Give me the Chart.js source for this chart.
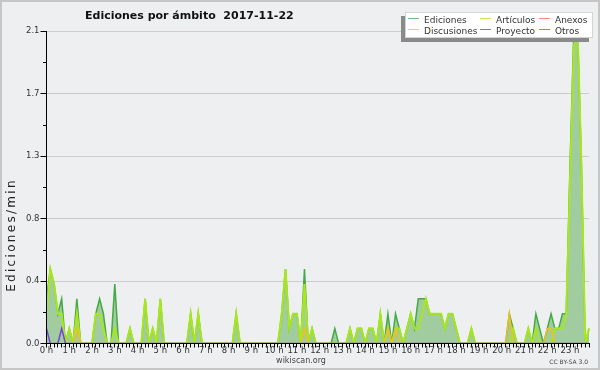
<!DOCTYPE html>
<html>
<head>
<meta charset="utf-8">
<script src="https://cdn.jsdelivr.net/npm/chart.js@4.4.1/dist/chart.umd.min.js"></script>
<style>
  body { margin: 0; background: #eeeff1; }
</style>
</head>
<body>
<canvas id="grafico" width="600" height="370"></canvas>
<script>
// una muestra cada 10 minutos, ediciones por minuto
const horas = ['0 h', '1 h', '2 h', '3 h', '4 h', '5 h', '6 h', '7 h', '8 h', '9 h', '10 h', '11 h',
  '12 h', '13 h', '14 h', '15 h', '16 h', '17 h', '18 h', '19 h', '20 h', '21 h', '22 h', '23 h'];
const yTicks = [0, 0.21, 0.42, 0.63, 0.84, 1.05, 1.26, 1.47, 1.68, 1.89, 2.1];

const ediciones = [
  0.3, 0.5, 0.4, 0.2, 0.3, 0, 0.1, 0, 0.3, 0, 0, 0,
  0, 0.2, 0.3, 0.2, 0, 0, 0.4, 0, 0, 0, 0.1, 0,
  0, 0, 0.3, 0, 0.1, 0, 0.3, 0, 0, 0, 0, 0,
  0, 0, 0.2, 0, 0.2, 0, 0, 0, 0, 0, 0, 0,
  0, 0, 0.2, 0, 0, 0, 0, 0, 0, 0, 0, 0,
  0, 0, 0.2, 0.5, 0.1, 0.2, 0.2, 0, 0.5, 0, 0.1, 0,
  0, 0, 0, 0, 0.1, 0, 0, 0, 0.1, 0, 0.1, 0.1,
  0, 0.1, 0.1, 0, 0.2, 0, 0.2, 0, 0.2, 0.1, 0, 0.1,
  0.2, 0.1, 0.3, 0.3, 0.3, 0.2, 0.2, 0.2, 0.2, 0.1, 0.2, 0.2,
  0.1, 0, 0, 0, 0.1, 0, 0, 0, 0, 0, 0, 0,
  0, 0, 0.2, 0.1, 0, 0, 0, 0.1, 0, 0.2, 0.1, 0,
  0.1, 0.2, 0.1, 0.1, 0.2, 0.2, 1.2, 2.1, 2.1, 1.2, 0, 0.1
];
const articulos = [
  0.2, 0.5, 0.4, 0.2, 0.2, 0, 0.1, 0, 0.2, 0, 0, 0,
  0, 0.2, 0.2, 0.1, 0, 0, 0.1, 0, 0, 0, 0.1, 0,
  0, 0, 0.3, 0, 0.1, 0, 0.3, 0, 0, 0, 0, 0,
  0, 0, 0.2, 0, 0.2, 0, 0, 0, 0, 0, 0, 0,
  0, 0, 0.2, 0, 0, 0, 0, 0, 0, 0, 0, 0,
  0, 0, 0.2, 0.5, 0.1, 0.2, 0.2, 0, 0.4, 0, 0.1, 0,
  0, 0, 0, 0, 0, 0, 0, 0, 0.1, 0, 0.1, 0.1,
  0, 0.1, 0.1, 0, 0.2, 0, 0.1, 0, 0.1, 0.1, 0, 0.1,
  0.2, 0.1, 0.1, 0.2, 0.3, 0.2, 0.2, 0.2, 0.2, 0.1, 0.2, 0.2,
  0.1, 0, 0, 0, 0.1, 0, 0, 0, 0, 0, 0, 0,
  0, 0, 0, 0.1, 0, 0, 0, 0.1, 0, 0.1, 0, 0,
  0, 0, 0.1, 0.1, 0.1, 0.2, 1.1, 2.0, 2.1, 1.2, 0, 0.1
];
const discusiones = [
  0, 0, 0, 0, 0, 0, 0, 0, 0.1, 0, 0, 0,
  0, 0, 0, 0, 0, 0, 0, 0, 0, 0, 0, 0,
  0, 0, 0, 0, 0, 0, 0, 0, 0, 0, 0, 0,
  0, 0, 0, 0, 0, 0, 0, 0, 0, 0, 0, 0,
  0, 0, 0, 0, 0, 0, 0, 0, 0, 0, 0, 0,
  0, 0, 0, 0, 0, 0, 0, 0, 0.1, 0, 0, 0,
  0, 0, 0, 0, 0, 0, 0, 0, 0, 0, 0, 0,
  0, 0, 0, 0, 0, 0, 0.1, 0, 0.1, 0, 0, 0,
  0, 0, 0, 0, 0, 0, 0, 0, 0, 0, 0, 0,
  0, 0, 0, 0, 0, 0, 0, 0, 0, 0, 0, 0,
  0, 0, 0.2, 0, 0, 0, 0, 0, 0, 0, 0, 0,
  0.1, 0.1, 0, 0, 0, 0, 0, 0, 0, 0, 0, 0
];
const otros = [
  0.1, 0, 0, 0, 0.1, 0, 0, 0, 0, 0, 0, 0,
  0, 0, 0, 0, 0, 0, 0, 0, 0, 0, 0, 0,
  0, 0, 0, 0, 0, 0, 0, 0, 0, 0, 0, 0,
  0, 0, 0, 0, 0, 0, 0, 0, 0, 0, 0, 0,
  0, 0, 0, 0, 0, 0, 0, 0, 0, 0, 0, 0,
  0, 0, 0, 0, 0, 0, 0, 0, 0, 0, 0, 0,
  0, 0, 0, 0, 0, 0, 0, 0, 0, 0, 0, 0,
  0, 0, 0, 0, 0, 0, 0, 0, 0, 0, 0, 0,
  0, 0, 0, 0, 0, 0, 0, 0, 0, 0, 0, 0,
  0, 0, 0, 0, 0, 0, 0, 0, 0, 0, 0, 0,
  0, 0, 0, 0, 0, 0, 0, 0, 0, 0, 0, 0,
  0, 0, 0, 0, 0, 0, 0, 0, 0, 0, 0, 0
];
const anexos = [
  0, 0, 0, 0, 0, 0, 0, 0, 0, 0, 0, 0,
  0, 0, 0, 0, 0, 0, 0, 0, 0, 0, 0, 0,
  0, 0, 0, 0, 0, 0, 0, 0, 0, 0, 0, 0,
  0, 0, 0, 0, 0, 0, 0, 0, 0, 0, 0, 0,
  0, 0, 0, 0, 0, 0, 0, 0, 0, 0, 0, 0,
  0, 0, 0, 0, 0, 0, 0, 0, 0, 0, 0, 0,
  0, 0, 0, 0, 0, 0, 0, 0, 0, 0, 0, 0,
  0, 0, 0, 0, 0, 0, 0, 0, 0, 0, 0, 0,
  0, 0, 0, 0, 0, 0, 0, 0, 0, 0, 0, 0,
  0, 0, 0, 0, 0, 0, 0, 0, 0, 0, 0, 0,
  0, 0, 0, 0, 0, 0, 0, 0, 0, 0, 0, 0,
  0, 0, 0, 0, 0, 0, 0, 0, 0, 0, 0, 0
];
const proyecto = [
  0, 0, 0, 0, 0, 0, 0, 0, 0, 0, 0, 0,
  0, 0, 0, 0, 0, 0, 0, 0, 0, 0, 0, 0,
  0, 0, 0, 0, 0, 0, 0, 0, 0, 0, 0, 0,
  0, 0, 0, 0, 0, 0, 0, 0, 0, 0, 0, 0,
  0, 0, 0, 0, 0, 0, 0, 0, 0, 0, 0, 0,
  0, 0, 0, 0, 0, 0, 0, 0, 0, 0, 0, 0,
  0, 0, 0, 0, 0, 0, 0, 0, 0, 0, 0, 0,
  0, 0, 0, 0, 0, 0, 0, 0, 0, 0, 0, 0,
  0, 0, 0, 0, 0, 0, 0, 0, 0, 0, 0, 0,
  0, 0, 0, 0, 0, 0, 0, 0, 0, 0, 0, 0,
  0, 0, 0, 0, 0, 0, 0, 0, 0, 0, 0, 0,
  0, 0, 0, 0, 0, 0, 0, 0, 0, 0, 0, 0
];

// etiquetas de categoria: 6 intervalos por hora
const intervalos = [];
horas.forEach(h => {
  for (let m = 0; m < 60; m += 10) intervalos.push(h + ' ' + m);
});

Chart.defaults.font.family = '"DejaVu Sans"';

const marco = {
  id: 'marco',
  beforeDraw(chart) {
    const c = chart.ctx;
    c.save();
    c.fillStyle = '#eeeff1';
    c.fillRect(0, 0, chart.width, chart.height);
    c.strokeStyle = '#c6c6c6';
    c.lineWidth = 2;
    c.strokeRect(1, 1, chart.width - 2, chart.height - 2);
    c.restore();
  }
};

const textos = {
  id: 'textos',
  afterDraw(chart) {
    const c = chart.ctx;
    const y = chart.scales.y;
    c.save();

    // marcas menores del eje y
    c.strokeStyle = '#000';
    c.lineWidth = 1;
    yTicks.forEach((v, i) => {
      if (i % 2 === 0) return;
      const py = Math.round(y.getPixelForValue(v)) + 0.5;
      c.beginPath();
      c.moveTo(43, py);
      c.lineTo(46.5, py);
      c.stroke();
    });

    c.fillStyle = '#111';
    c.font = 'bold 11px "DejaVu Sans"';
    c.textAlign = 'left';
    c.textBaseline = 'alphabetic';
    c.fillText('Ediciones por ámbito  2017-11-22', 85, 18.5);

    c.save();
    c.translate(15, 235);
    c.rotate(-Math.PI / 2);
    c.font = '12px "DejaVu Sans"';
    c.letterSpacing = '2.3px';
    c.textAlign = 'center';
    c.fillStyle = '#222';
    c.fillText('Ediciones/min', 0, 0);
    c.restore();

    c.fillStyle = '#444';
    c.font = '8px "DejaVu Sans"';
    c.textAlign = 'center';
    c.fillText('wikiscan.org', 301, 363);
    c.font = '6px "DejaVu Sans"';
    c.textAlign = 'right';
    c.fillText('CC BY-SA 3.0', 588, 364);

    // leyenda
    c.fillStyle = '#8a8a8a';
    c.fillRect(401, 16, 188, 26);
    c.fillStyle = '#fff';
    c.fillRect(405, 12, 188, 26);
    c.strokeStyle = '#d4d4d4';
    c.lineWidth = 1;
    c.strokeRect(405.5, 12.5, 187, 25);
    const colX = [408, 480, 539];
    const filaY = [18.5, 29.5];
    c.font = '9px "DejaVu Sans"';
    c.textAlign = 'left';
    chart.data.datasets.forEach((ds, i) => {
      const x = colX[Math.floor(i / 2)];
      const fy = filaY[i % 2];
      c.globalAlpha = 0.75;
      c.strokeStyle = ds.borderColor;
      c.beginPath();
      c.moveTo(x, fy);
      c.lineTo(x + 11, fy);
      c.stroke();
      c.globalAlpha = 1;
      c.fillStyle = '#333';
      c.fillText(ds.label, x + 16, fy + 4);
    });
    c.restore();
  }
};

new Chart(document.getElementById('grafico'), {
  type: 'line',
  data: {
    labels: intervalos,
    datasets: [
      { label: 'Ediciones', data: ediciones, borderColor: '#44aa44', borderWidth: 1.5,
        fill: 'origin', backgroundColor: '#a0cca0', order: 5 },
      { label: 'Discusiones', data: discusiones, borderColor: '#f0c020', borderWidth: 1.5, fill: false, order: 1 },
      { label: 'Artículos', data: articulos, borderColor: '#a8e61d', borderWidth: 2, fill: false, order: 2 },
      { label: 'Proyecto', data: proyecto, borderColor: '#555555', borderWidth: 1, fill: false, order: 4 },
      { label: 'Anexos', data: anexos, borderColor: '#ee7040', borderWidth: 1, fill: false, order: 3 },
      { label: 'Otros', data: otros, borderColor: '#7744dd', borderWidth: 1.5, fill: false, order: 0 }
    ]
  },
  options: {
    responsive: false,
    animation: false,
    layout: { padding: { top: 31, right: 11, left: 0, bottom: 0 } },
    elements: { point: { radius: 0 }, line: { tension: 0 } },
    plugins: {
      legend: { display: false },
      tooltip: { enabled: false }
    },
    scales: {
      x: {
        grid: { drawOnChartArea: false, tickLength: 4, tickColor: '#000' },
        border: { color: '#000', z: 1 },
        ticks: {
          autoSkip: false,
          maxRotation: 0,
          padding: -2,
          color: '#333',
          font: { size: 8.5 },
          callback: (v, i) => (i % 6 === 0 ? horas[i / 6] : '')
        },
        afterFit: s => { s.height = 26.5; }
      },
      y: {
        min: 0,
        max: 2.1,
        afterBuildTicks: s => { s.ticks = yTicks.map(v => ({ value: v })); },
        grid: {
          color: c => (c.index % 2 === 0 ? '#cccccc' : 'rgba(0,0,0,0)'),
          tickColor: c => (c.index % 2 === 0 ? '#000' : 'rgba(0,0,0,0)'),
          tickLength: 6
        },
        border: { color: '#000', z: 1 },
        ticks: {
          padding: 1,
          color: '#333',
          font: { size: 8.5 },
          callback: (v, i) => (i % 2 === 0 ? v.toFixed(1) : '')
        },
        afterFit: s => { s.width = 46.5; }
      }
    }
  },
  plugins: [marco, textos]
});
</script>
</body>
</html>
